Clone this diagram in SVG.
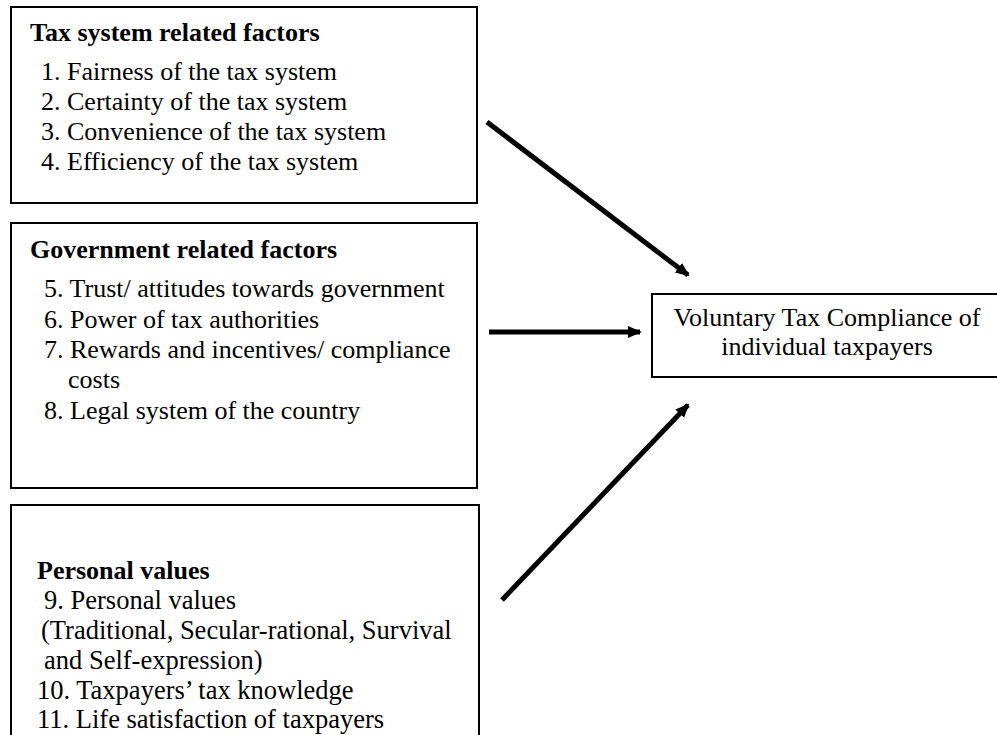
<svg xmlns="http://www.w3.org/2000/svg" width="997" height="735" viewBox="0 0 997 735">
<defs>
<style>
.box{fill:#fff;stroke:#000;stroke-width:2}
.t{font-family:"Liberation Serif","Times New Roman",serif;font-size:26px;fill:#000}
.p{font-size:26.5px}
.h{font-weight:bold}
.c{text-anchor:middle}
.ln{stroke:#000;stroke-width:5;fill:none}
</style>
<marker id="ah" markerUnits="userSpaceOnUse" markerWidth="14" markerHeight="14" viewBox="0 0 14 14" refX="12" refY="7" orient="auto">
<path d="M0,1 L14,7 L0,13 Z" fill="#000"/>
</marker>
</defs>
<rect width="997" height="735" fill="#fff"/>
<g id="tax-system">
<rect class="box" x="11" y="7" width="466" height="196"/>
<text class="t h" x="30" y="41">Tax system related factors</text>
<text class="t" x="41" y="80">1. Fairness of the tax system</text>
<text class="t" x="41" y="110">2. Certainty of the tax system</text>
<text class="t" x="41" y="140">3. Convenience of the tax system</text>
<text class="t" x="41" y="170">4. Efficiency of the tax system</text>
</g>
<g id="government">
<rect class="box" x="11" y="223" width="466" height="265"/>
<text class="t h" x="30" y="258">Government related factors</text>
<text class="t" x="44" y="297">5. Trust/ attitudes towards government</text>
<text class="t" x="44" y="328">6. Power of tax authorities</text>
<text class="t" x="44" y="358">7. Rewards and incentives/ compliance</text>
<text class="t" x="68" y="388">costs</text>
<text class="t" x="44" y="419">8. Legal system of the country</text>
</g>
<g id="personal">
<rect class="box" x="11" y="505" width="468" height="240"/>
<text class="t h" x="37" y="579">Personal values</text>
<text class="t p" x="44" y="609">9. Personal values</text>
<text class="t p" x="41" y="639">(Traditional, Secular-rational, Survival</text>
<text class="t p" x="44" y="669">and Self-expression)</text>
<text class="t p" x="37" y="699">10. Taxpayers’ tax knowledge</text>
<text class="t p" x="37" y="728">11. Life satisfaction of taxpayers</text>
</g>
<g id="outcome">
<rect class="box" x="652" y="294" width="360" height="83"/>
<text class="t c" x="827" y="326">Voluntary Tax Compliance of</text>
<text class="t c" x="827" y="355">individual taxpayers</text>
</g>
<g id="connectors">
<line class="ln" x1="487" y1="122" x2="688" y2="275" marker-end="url(#ah)"/>
<line class="ln" x1="489" y1="332" x2="640" y2="332" stroke-width="4" marker-end="url(#ah)"/>
<line class="ln" x1="502" y1="600" x2="688" y2="405" marker-end="url(#ah)"/>
</g>
</svg>
